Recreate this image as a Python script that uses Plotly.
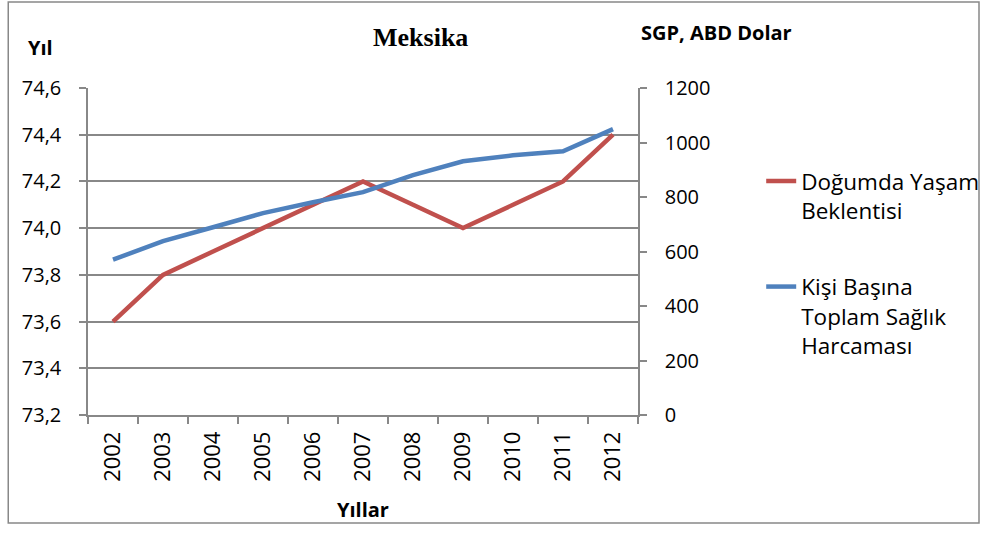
import plotly.graph_objects as go

years = ["2002", "2003", "2004", "2005", "2006", "2007", "2008", "2009", "2010", "2011", "2012"]
life_expectancy = [73.6, 73.8, 73.9, 74.0, 74.1, 74.2, 74.1, 74.0, 74.1, 74.2, 74.4]
health_spending = [570, 638, 689, 741, 781, 818, 880, 931, 953, 968, 1049]

name_life = "Doğumda Yaşam<br>Beklentisi"
name_spend = "Kişi Başına<br>Toplam Sağlık<br>Harcaması"

RED = "#C0504D"
BLUE = "#4F81BD"
GRID = "#888888"
FONT = "Open Sans"

fig = go.Figure()
fig.add_trace(go.Scatter(x=years, y=life_expectancy, name=name_life, mode="lines",
                         legendgroup="a",
                         line=dict(color=RED, width=4.5), yaxis="y"))
fig.add_trace(go.Scatter(x=years, y=health_spending, name=name_spend, mode="lines",
                         legendgroup="b",
                         line=dict(color=BLUE, width=4.5), yaxis="y2"))

fig.update_layout(
    width=981, height=533,
    margin=dict(l=88, r=343, t=88, b=118, autoexpand=False),
    paper_bgcolor="white", plot_bgcolor="white",
    separators=",.",
    font=dict(family=FONT, size=20, color="black"),
    xaxis=dict(type="category", range=[-0.5, 10.5], tickson="boundaries", ticks="outside",
               ticklen=7, tickcolor=GRID, tickwidth=1.5, showline=True, linecolor=GRID,
               linewidth=1.5, showgrid=False, tickangle=-90, tickfont=dict(size=22),
               ticklabelstandoff=6, automargin=False),
    yaxis=dict(range=[73.2, 74.6], dtick=0.2, tickformat=".1f", ticks="outside", ticklen=7,
               tickcolor=GRID, tickwidth=1.5, showline=True, linecolor=GRID, linewidth=1.5,
               showgrid=True, gridcolor=GRID, gridwidth=1.5, zeroline=False,
               ticklabelstandoff=14, tickfont=dict(size=20), automargin=False),
    yaxis2=dict(range=[0, 1200], dtick=200, overlaying="y", side="right", ticks="outside",
                ticklen=7, tickcolor=GRID, tickwidth=1.5, showline=True, linecolor=GRID,
                linewidth=1.5, showgrid=False, zeroline=False, ticklabelstandoff=14,
                tickfont=dict(size=20), automargin=False),
    legend=dict(x=1.224, xanchor="left", y=0.78, yanchor="top", valign="top",
                font=dict(size=22.5), bgcolor="rgba(0,0,0,0)", tracegroupgap=44,
                traceorder="grouped"),
    showlegend=True,
)

fig.add_annotation(text="<b>Meksika</b>", x=0.604, y=1.153, xref="paper", yref="paper",
                   xanchor="center", yanchor="middle",
                   showarrow=False, font=dict(family="Liberation Serif", size=26))
fig.add_annotation(text="<b>Yıl</b>", x=-0.087, y=1.125, xref="paper", yref="paper",
                   xanchor="center", yanchor="middle",
                   showarrow=False, font=dict(size=20))
fig.add_annotation(text="<b>SGP, ABD Dolar</b>", x=1.142, y=1.171, xref="paper", yref="paper",
                   xanchor="center", yanchor="middle",
                   showarrow=False, font=dict(size=20))
fig.add_annotation(text="<b>Yıllar</b>", x=0.5, y=-0.29, xref="paper", yref="paper",
                   xanchor="center", yanchor="middle",
                   showarrow=False, font=dict(size=20))

fig.add_shape(type="rect", xref="paper", yref="paper", x0=-0.145, x1=1.62, y0=-0.33, y1=1.263,
              line=dict(color=GRID, width=1.5), fillcolor="rgba(0,0,0,0)", layer="below")

fig.write_html("out.html", post_script="document.body.style.margin='0';",
               config={"displayModeBar": False})
